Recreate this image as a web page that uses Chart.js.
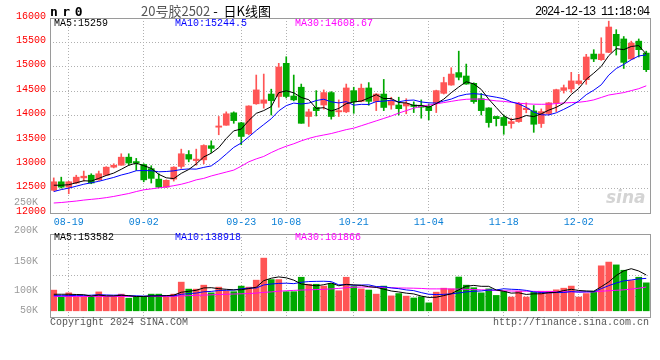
<!DOCTYPE html>
<html>
<head>
<meta charset="utf-8">
<script src="https://cdn.jsdelivr.net/npm/chart.js@4.4.1/dist/chart.umd.min.js"></script>
<style>
  html, body { margin: 0; padding: 0; background: #fff; }
  #wrap { position: relative; width: 660px; height: 360px; overflow: hidden; background: #fff; }
  #wrap canvas { position: absolute; left: 0; top: 0; }
  .t { position: absolute; white-space: pre; font-family: 'Liberation Mono', monospace; font-size: 10px; line-height: 12px; color: #000; }
</style>
</head>
<body>
<div id="wrap">
  <canvas id="kChart" width="660" height="360"></canvas>
  <canvas id="volChart" width="660" height="360"></canvas>

  <div class="t" style="left:50px;top:5px;font:bold 13px 'DejaVu Sans Mono';line-height:14px;letter-spacing:4.5px">nr0</div>
  <div class="t" style="left:141px;top:3px;font-family:'Noto Sans CJK SC';font-size:13px;line-height:16px"><span style="color:#555">20号胶2502</span> -  日K线图</div>
  <div class="t" style="left:535px;top:6px;font-size:12px;letter-spacing:-1.2px">2024-12-13 11:18:04</div>

  <div class="t" style="left:54px;top:18px">MA5:15259</div>
  <div class="t" style="left:175px;top:18px;color:#0000ff">MA10:15244.5</div>
  <div class="t" style="left:295px;top:18px;color:#ff00ff">MA30:14608.67</div>

  <div class="t" style="left:54px;top:232px">MA5:153582</div>
  <div class="t" style="left:175px;top:232px;color:#0000ff">MA10:138918</div>
  <div class="t" style="left:295px;top:232px;color:#ff00ff">MA30:101866</div>

  <div class="t" style="left:606px;top:187px;font:italic bold 17px 'DejaVu Sans';line-height:20px;color:#d4d4d4">sina</div>

  <div class="t" style="left:50px;top:317px;color:#555">Copyright 2024 SINA.COM</div>
  <div class="t" style="left:493px;top:317px;color:#555">http://finance.sina.com.cn</div>
</div>

<script>
// trading days shown on the chart
const dates = [
  '08-15','08-16','08-19','08-20','08-21','08-22','08-23','08-26','08-27','08-28','08-29','08-30',
  '09-02','09-03','09-04','09-05','09-06','09-09','09-10','09-11','09-12','09-13','09-18','09-19','09-20',
  '09-23','09-24','09-25','09-26','09-27','09-30',
  '10-08','10-09','10-10','10-11','10-14','10-15','10-16','10-17','10-18','10-21','10-22','10-23','10-24','10-25',
  '10-28','10-29','10-30','10-31','11-01',
  '11-04','11-05','11-06','11-07','11-08','11-11','11-12','11-13','11-14','11-15','11-18','11-19','11-20','11-21','11-22',
  '11-25','11-26','11-27','11-28','11-29',
  '12-02','12-03','12-04','12-05','12-06','12-09','12-10','12-11','12-12','12-13'
];
const tickDates = ['08-19', '09-02', '09-23', '10-08', '10-21', '11-04', '11-18', '12-02'];

const opens = [
  12465,12640,12530,12615,12720,12775,12680,12775,12940,12980,
  13145,13055,12995,12910,12695,12530,12695,12955,13200,13075,
  13090,13380,13760,13800,14055,13850,13625,14240,14250,14440,
  14390,15070,14400,14580,13980,14165,14215,14470,14075,14075,
  14510,14290,14565,14290,14440,14215,14215,14195,14215,14205,
  14185,14250,14455,14625,14880,14810,14660,14345,14155,13980,
  13960,13835,13875,14120,14095,13835,14040,14260,14515,14545,
  14655,14735,15260,15145,15295,15665,15570,15160,15525,15280
];
const highs = [
  12720,12735,12650,12775,12860,12805,12860,12950,13010,13215,
  13215,13120,13010,12970,12805,12680,12950,13310,13280,13310,
  13400,13480,13980,14075,14075,13860,14200,14830,14850,14540,
  15070,15205,14830,14645,14130,14510,14525,14490,14320,14645,
  14580,14645,14675,14450,14740,14375,14375,14345,14280,14320,
  14235,14520,14785,14980,15320,15055,14670,14455,14160,13985,
  14010,13945,14270,14260,14205,14135,14265,14540,14625,14885,
  14845,15255,15350,15595,15935,15760,15620,15525,15570,15320
];
const lows = [
  12450,12510,12395,12600,12655,12600,12670,12770,12925,12980,
  12980,12875,12640,12615,12520,12520,12655,12915,13050,12980,
  13010,13240,13605,13800,13840,13400,13605,14230,14150,14010,
  14170,14360,14300,13840,13775,13990,14130,13925,13980,14060,
  14045,14280,14210,14100,14100,14130,14010,14035,14060,13945,
  13910,14060,14440,14620,14730,14640,14250,14010,13760,13785,
  13615,13740,13860,14055,13655,13755,14010,14080,14460,14475,
  14625,14640,15105,15130,15290,15240,14965,15150,15200,14900
];
const closes = [
  12640,12530,12640,12735,12755,12615,12805,12940,12980,13145,
  13025,13025,12680,12710,12530,12670,12940,13215,13105,13105,
  13385,13325,13785,14035,13895,13570,14195,14525,14320,14305,
  14995,14390,14320,13840,14075,14100,14470,13980,14100,14565,
  14280,14560,14290,14440,14165,14290,14140,14250,14185,14170,
  14100,14510,14675,14850,14785,14645,14285,14100,13855,13935,
  13795,13875,14245,14150,13820,14080,14260,14530,14570,14710,
  14710,15200,15160,15260,15815,15430,15090,15485,15350,14940
];

const ma5 = [
  12570,12570,12580,12620,12661,12655,12710,12770,12819,12897,
  12979,13023,12971,12916,12793,12722,12706,12813,12892,13007,
  13150,13226,13341,13527,13685,13722,13897,14044,14101,14183,
  14468,14507,14466,14370,14324,14145,14161,14093,14145,14243,
  14278,14296,14359,14427,14347,14349,14266,14258,14206,14207,
  14169,14243,14335,14468,14584,14693,14648,14534,14334,14165,
  13995,13913,13941,14000,13977,14034,14110,14168,14252,14430,
  14555,14744,14869,15007,15228,15372,15351,15416,15434,15259
];
const ma10 = [
  12440,12480,12510,12550,12590,12620,12650,12690,12730,12779,
  12817,12867,12871,12868,12845,12851,12865,12892,12904,12900,
  12936,12966,13077,13210,13346,13436,13562,13693,13814,13934,
  14095,14202,14255,14236,14254,14307,14334,14280,14258,14284,
  14212,14229,14226,14286,14295,14314,14281,14309,14317,14278,
  14260,14255,14297,14337,14399,14435,14449,14435,14401,14375,
  14344,14281,14238,14167,14071,14015,14012,14055,14126,14204,
  14295,14427,14519,14630,14829,14964,15048,15143,15221,15244
];
const ma30 = [
  12205,12215,12230,12245,12265,12280,12295,12315,12340,12370,
  12400,12440,12475,12495,12515,12535,12560,12590,12630,12680,
  12710,12760,12800,12840,12880,12960,13050,13110,13160,13240,
  13310,13370,13420,13480,13530,13570,13600,13630,13670,13710,
  13740,13790,13840,13890,13940,13990,14050,14100,14150,14190,
  14215,14238,14265,14290,14315,14333,14338,14335,14320,14300,
  14290,14270,14252,14240,14232,14230,14232,14245,14258,14265,
  14272,14290,14320,14370,14420,14445,14470,14510,14550,14609
];

const volumes = [
  88700,60000,77000,60000,60000,60000,81000,60000,60000,71500,
  54000,60000,62000,71500,71500,60000,71500,123000,93000,93000,
  110000,77000,101500,85000,82000,106000,101500,131500,226000,134000,
  134000,82000,82000,144000,114000,114000,106000,117000,86000,144000,
  104000,94000,89000,71500,106000,64000,74000,63000,55000,60000,
  34000,80000,97000,94000,145000,110000,99000,77000,94000,66000,
  83000,59000,84000,59000,79000,84000,84000,90000,97000,106000,
  59000,74000,84000,193000,209000,197000,174000,130000,144000,120000
];
const volMa5 = [
  71000,71000,71000,70000,69100,63400,67600,64200,64200,66500,
  65300,61100,61500,63800,63800,65000,67300,79500,83800,88100,
  98100,99200,94900,92200,89900,90300,95400,101200,129200,139800,
  145400,141500,131600,115200,111200,107200,112000,119000,107400,113400,
  111400,109000,103400,100500,92900,84900,80900,75700,72400,63200,
  57200,58400,65200,73000,90000,105200,109000,105000,105000,89200,
  83800,75800,77200,70200,72800,73000,78000,79200,86800,92200,
  87200,85200,84000,103200,123800,151400,171400,180600,170800,153582
];
const volMa10 = [
  65000,65000,65000,66000,66000,67000,69000,68000,67000,67800,
  64400,64400,62900,64000,65200,65200,64200,70500,73800,76000,
  81600,83200,87200,88000,89000,94400,97300,98000,110900,115000,
  117400,118500,116500,122300,125500,126300,126800,125300,111300,112300,
  109300,110500,111200,104000,103200,98200,95000,89600,86500,78000,
  71000,69700,70500,72700,76600,81200,83700,85100,89000,89600,
  94500,92400,91100,87600,81000,78400,76900,78200,78500,82500,
  80100,81600,81600,95000,108000,119300,128300,132300,137000,138918
];
const volMa30 = [
  61500,61500,61500,61500,61500,61500,61500,61500,61500,61500,
  61500,61500,61500,61500,61500,61500,62000,64000,65000,66500,
  67500,68500,70000,71000,72000,73000,74000,76000,79000,81000,
  84000,86000,87500,89000,90000,91000,92000,94000,96000,99000,
  101000,102000,102000,101500,100000,99000,98000,97500,97000,96000,
  94000,94000,94000,93500,93000,92000,91000,90000,89000,87000,
  86000,85000,84500,84000,83500,83000,83000,82500,82000,81500,
  81000,80500,81000,84000,86000,88000,90000,93000,97000,101866
];
const volTickLabels = ['50K', '100K', '150K', '200K', '250K'];

const UP = '#ff5555';
const DOWN = '#00a800';
const candleColors = closes.map((c, i) => c >= opens[i] ? UP : DOWN);

Chart.defaults.font.family = "'Liberation Mono', monospace";
Chart.defaults.font.size = 10;

const frame = {
  id: 'frame',
  afterDraw(chart) {
    const { ctx, chartArea: a } = chart;
    ctx.save();
    ctx.strokeStyle = '#9a9a9a';
    ctx.lineWidth = 1;
    ctx.strokeRect(a.left + 0.5, a.top + 0.5, a.right - a.left, a.bottom - a.top);
    ctx.restore();
  }
};

const dateTicks = scale => {
  scale.ticks = scale.ticks.filter(t => tickDates.includes(dates[t.value]));
};

const lineDs = (data, color, order) => ({
  type: 'line', data, borderColor: color, borderWidth: 1,
  pointRadius: 0, tension: 0, order, fill: false
});

new Chart(document.getElementById('kChart'), {
  type: 'bar',
  data: {
    labels: dates,
    datasets: [
      lineDs(ma5, '#000000', 0),
      lineDs(ma10, '#0000ff', 1),
      lineDs(ma30, '#ff00ff', 2),
      {
        data: opens.map((o, i) => [o, closes[i]]),
        backgroundColor: candleColors, barThickness: 6, minBarLength: 1,
        grouped: false, order: 3, borderWidth: 0
      },
      {
        data: lows.map((l, i) => [l, highs[i]]),
        backgroundColor: candleColors, barThickness: 1,
        grouped: false, order: 4, borderWidth: 0
      }
    ]
  },
  options: {
    responsive: false,
    animation: false,
    events: [],
    devicePixelRatio: 1,
    layout: { padding: { left: 0, top: 18, right: 10, bottom: 131 } },
    plugins: { legend: { display: false }, tooltip: { enabled: false } },
    scales: {
      x: {
        offset: true,
        grid: { offset: false, color: '#b0b0b0', drawTicks: false },
        border: { display: false, dash: [1, 2] },
        ticks: { color: '#0a7fd6', padding: 3, maxRotation: 0, autoSkip: false },
        afterBuildTicks: dateTicks,
        afterFit: s => { s.height = 16; }
      },
      y: {
        min: 12000, max: 16000,
        grid: { color: '#b0b0b0', drawTicks: false },
        border: { display: false, dash: [1, 2] },
        ticks: {
          stepSize: 500, color: '#ff0000', padding: 4, labelOffset: -2,
          callback: v => String(v)
        },
        afterFit: s => { s.width = 50; }
      }
    }
  },
  plugins: [frame]
});

// volume panel: 0 sits a little above the bottom edge, as in the picture
const volMin = -26600, volMax = 329500;
new Chart(document.getElementById('volChart'), {
  type: 'bar',
  data: {
    labels: dates,
    datasets: [
      lineDs(volMa5, '#000000', 0),
      lineDs(volMa10, '#0000ff', 1),
      lineDs(volMa30, '#ff00ff', 2),
      {
        data: volumes, backgroundColor: candleColors, barThickness: 6,
        order: 3, borderWidth: 0
      }
    ]
  },
  options: {
    responsive: false,
    animation: false,
    events: [],
    devicePixelRatio: 1,
    layout: { padding: { left: 0, top: 234, right: 10, bottom: 43 } },
    plugins: { legend: { display: false }, tooltip: { enabled: false } },
    scales: {
      x: {
        offset: true,
        grid: { offset: false, color: '#b0b0b0', drawTicks: false },
        border: { display: false, dash: [1, 2] },
        ticks: { display: false },
        afterBuildTicks: dateTicks,
        afterFit: s => { s.height = 0; }
      },
      y: {
        min: volMin, max: volMax,
        grid: { display: false },
        border: { display: false },
        ticks: {
          color: '#9a9a9a', padding: 4, autoSkip: false,
          callback: (v, i) => volTickLabels[i]
        },
        // label anchors follow where the source draws them
        afterBuildTicks: s => { s.ticks = [3400, 88000, 211000, 344000, 467000].map(v => ({ value: v })); },
        afterFit: s => { s.width = 50; }
      },
      yg: {
        position: 'left',
        min: volMin, max: volMax,
        grid: { color: '#b0b0b0', drawTicks: false },
        border: { display: false, dash: [1, 2] },
        ticks: { display: false },
        afterBuildTicks: s => {
          s.ticks = [1, 2, 3].map(k => ({ value: volMin + (volMax - volMin) * k / 4 }));
        },
        afterFit: s => { s.width = 0; }
      }
    }
  },
  plugins: [frame]
});
</script>
</body>
</html>
